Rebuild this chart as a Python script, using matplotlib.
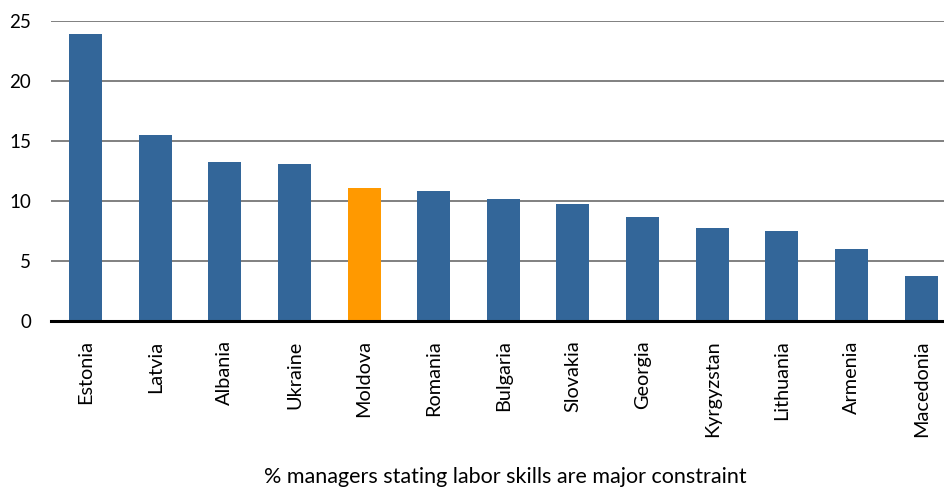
import numpy as np
import matplotlib
matplotlib.use("Agg")
import matplotlib.pyplot as plt

# data
countries = ["Estonia", "Latvia", "Albania", "Ukraine", "Moldova", "Romania",
             "Bulgaria", "Slovakia", "Georgia", "Kyrgyzstan", "Lithuania",
             "Armenia", "Macedonia"]
values = [23.9, 15.5, 13.25, 13.1, 11.1, 10.85, 10.15, 9.75, 8.65, 7.75, 7.5, 6.0, 3.75]
highlight = "Moldova"
yticks = [0, 5, 10, 15, 20, 25]
xlabel = "% managers stating labor skills are major constraint"

plt.rcParams['font.family'] = ['Lato', 'DejaVu Sans']

blue = "#336699"
orange = "#FF9900"

fig = plt.figure(figsize=(9.44, 4.87), dpi=100)
# plot area runs a bit past the right edge, like the original
ax = fig.add_axes([50.7/944, 1 - 321/487, (956 - 50.7)/944, (321 - 21.3)/487])

x = np.arange(len(countries))
colors = [orange if c == highlight else blue for c in countries]
ax.bar(x, values, width=0.474, color=colors, zorder=3)

ax.set_xlim(-0.5, len(countries) - 0.5)
ax.set_ylim(0, 25)
ax.set_yticks(yticks)
ax.set_yticklabels([str(t) for t in yticks], fontsize=13.5)
ax.set_xticks(x)
ax.set_xticklabels(countries, rotation=90, fontsize=14.3, va="top", ha="center")
ax.tick_params(axis="both", length=0)
ax.tick_params(axis="x", pad=14)
ax.tick_params(axis="y", pad=14)

for t in yticks[1:]:
    ax.axhline(t, color="#808080", linewidth=1.4, zorder=1)
ax.axhline(0, color="black", linewidth=2.2, zorder=4, clip_on=False)

for s in ax.spines.values():
    s.set_visible(False)

fig.text(505/944, 1 - 477/487, xlabel, ha="center", va="center", fontsize=15.5)

fig.savefig("out.png", dpi=100)
